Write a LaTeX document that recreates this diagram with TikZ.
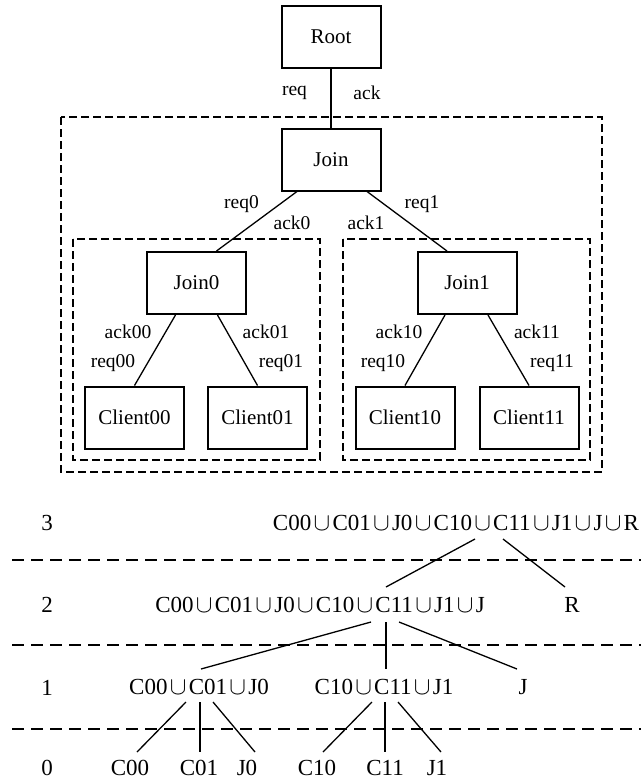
\documentclass[tikz,border=0pt]{standalone}
\usepackage{fontspec}
\setmainfont{Liberation Serif}
\usetikzlibrary{calc}
\newcommand{\cupop}{\kern0.1em$\cup$\kern0.1em}
\begin{document}
\begin{tikzpicture}[x=1pt,y=-1pt,
  box/.style={draw,line width=2pt,minimum width=99pt,minimum height=62pt,inner sep=0pt,
    font=\fontsize{21}{25}\selectfont},
  lbl/.style={inner sep=0pt,font=\fontsize{19.5}{23}\selectfont},
  conn/.style={line width=1.3pt},
  grp/.style={line width=1.2pt,dash pattern=on 8pt off 4pt},
  lvl/.style={line width=2.5pt,dash pattern=on 12pt off 7pt},
  setlbl/.style={inner sep=0pt,font=\fontsize{23}{27}\selectfont}]
\useasboundingbox (0,0) rectangle (641,782);

% ---- component hierarchy ----
\draw[grp] (61,117) rectangle (602,472);
\draw[grp] (73,239) rectangle (320,460);
\draw[grp] (343,239) rectangle (590,460);

\node[box] (root) at (331,37) {Root};
\node[box] (join) at (331,159.5) {Join};
\node[box] (join0) at (196.5,283) {Join0};
\node[box] (join1) at (467,283) {Join1};
\node[box] (c00) at (134.5,417.5) {Client00};
\node[box] (c01) at (257.5,417.5) {Client01};
\node[box] (c10) at (405,417.5) {Client10};
\node[box] (c11) at (529,417.5) {Client11};

\draw[conn] (root) -- (join);
\draw[conn] ($(join.south)+(-34,0)$) -- ($(join0.north)+(20,0)$);
\draw[conn] ($(join.south)+(36,0)$) -- ($(join1.north)+(-20,0)$);
\draw[conn] ($(join0.south)+(-21,0)$) -- (c00.north);
\draw[conn] ($(join0.south)+(21,0)$) -- (c01.north);
\draw[conn] ($(join1.south)+(-22,0)$) -- (c10.north);
\draw[conn] ($(join1.south)+(21,0)$) -- (c11.north);

\node[lbl] (lreq) at (294.5,93) {req};
\node[lbl] (lack) at (367,93) {ack};
\node[lbl] (lreq0) at (241.5,204) {req0};
\node[lbl] (lack0) at (292,223) {ack0};
\node[lbl] (lack1) at (366,223) {ack1};
\node[lbl] (lreq1) at (422,204) {req1};
\node[lbl] (lack00) at (128,332) {ack00};
\node[lbl] (lreq00) at (113,363) {req00};
\node[lbl] (lack01) at (266,332) {ack01};
\node[lbl] (lreq01) at (281,363) {req01};
\node[lbl] (lack10) at (399,332) {ack10};
\node[lbl] (lreq10) at (383,363) {req10};
\node[lbl] (lack11) at (537,332) {ack11};
\node[lbl] (lreq11) at (552,363) {req11};

% ---- level decomposition ----
\draw[lvl] (12,560) -- (641,560);
\draw[lvl] (12,645) -- (641,645);
\draw[lvl] (12,729) -- (641,729);

\node[setlbl] (n3) at (47,523) {3};
\node[setlbl] (n2) at (47,605) {2};
\node[setlbl] (n1) at (47,688) {1};
\node[setlbl] (n0) at (47,768) {0};

\node[setlbl] (s3) at (456,523) {C00\cupop C01\cupop J0\cupop C10\cupop C11\cupop J1\cupop J\cupop R};
\node[setlbl] (s2) at (320,605) {C00\cupop C01\cupop J0\cupop C10\cupop C11\cupop J1\cupop J};
\node[setlbl] (r2) at (572,605) {R};
\node[setlbl] (s1a) at (199,687) {C00\cupop C01\cupop J0};
\node[setlbl] (s1b) at (384,687) {C10\cupop C11\cupop J1};
\node[setlbl] (j1) at (523,687) {J};
\node[setlbl] (b00) at (130,768) {C00};
\node[setlbl] (b01) at (199,768) {C01};
\node[setlbl] (bj0) at (247,768) {J0};
\node[setlbl] (b10) at (317,768) {C10};
\node[setlbl] (b11) at (385,768) {C11};
\node[setlbl] (bj1) at (437,768) {J1};

\draw[conn] ($(s3.center)+(19,16)$) -- ($(s2.center)+(66,-18)$);
\draw[conn] ($(s3.center)+(47,16)$) -- ($(r2.center)+(-7,-18)$);
\draw[conn] ($(s2.center)+(51,17)$) -- ($(s1a.center)+(2,-18)$);
\draw[conn] ($(s2.center)+(66,17)$) -- ($(s1b.center)+(2,-18)$);
\draw[conn] ($(s2.center)+(79,17)$) -- ($(j1.center)+(-6,-18)$);
\draw[conn] ($(s1a.center)+(-13,15)$) -- ($(b00.center)+(7,-16)$);
\draw[conn] ($(s1a.center)+(1,15)$) -- ($(b01.center)+(1,-16)$);
\draw[conn] ($(s1a.center)+(14,15)$) -- ($(bj0.center)+(8,-16)$);
\draw[conn] ($(s1b.center)+(-12,15)$) -- ($(b10.center)+(6,-16)$);
\draw[conn] ($(s1b.center)+(1,15)$) -- ($(b11.center)+(0,-16)$);
\draw[conn] ($(s1b.center)+(14,15)$) -- ($(bj1.center)+(4,-16)$);
\end{tikzpicture}
\end{document}
